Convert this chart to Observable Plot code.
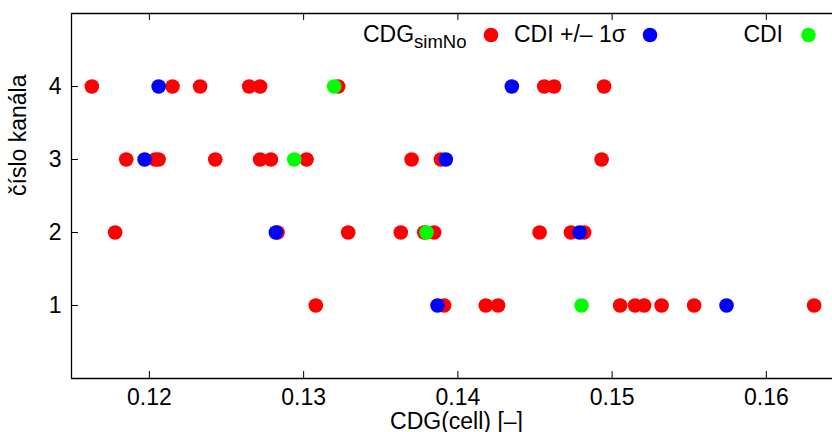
<!DOCTYPE html>
<html>
<head>
<meta charset="utf-8">
<script src="https://cdn.jsdelivr.net/npm/d3@7"></script>
<script src="https://cdn.jsdelivr.net/npm/@observablehq/plot@0.6"></script>
<style>
  html, body { margin: 0; padding: 0; background: #fff; }
  #chart { width: 832px; height: 432px; }
  svg { font-family: "Liberation Sans", Arial, sans-serif; }
</style>
</head>
<body>
<div id="chart"></div>
<script>
// ---- data ----
const channels = [1, 2, 3, 4];
// CDG_simNo (red)
const cdgSimCh1 = [0.13079, 0.13911, 0.14181, 0.14261, 0.15052, 0.15149, 0.15208, 0.15321, 0.15532, 0.16310];
const cdgSimCh2 = [0.11778, 0.12831, 0.13289, 0.13630, 0.13782, 0.13846, 0.14530, 0.14733, 0.14819];
const cdgSimCh3 = [0.11850, 0.12038, 0.12060, 0.12427, 0.12718, 0.12788, 0.13019, 0.13700, 0.13890, 0.14932];
const cdgSimCh4 = [0.11627, 0.12150, 0.12329, 0.12647, 0.12718, 0.13224, 0.14560, 0.14624, 0.14948];
// CDI +/- 1 sigma (blue)
const cdiSigmaLow  = [0.13868, 0.12820, 0.11969, 0.12060];
const cdiSigmaHigh = [0.15742, 0.14789, 0.13922, 0.14350];
// CDI (green)
const cdiMean = [0.14802, 0.13797, 0.12939, 0.13198];
// ticks
const xTicks = [0.12, 0.13, 0.14, 0.15, 0.16];
const yTicks = [1, 2, 3, 4];
const xLabel = "CDG(cell) [–]";
const yLabel = "číslo kanála";

// ---- tables built from arrays ----
const redPts = [];
[cdgSimCh1, cdgSimCh2, cdgSimCh3, cdgSimCh4].forEach((arr, i) =>
  arr.forEach(v => redPts.push({ch: channels[i], v})));
const bluePts = [];
channels.forEach((c, i) => { bluePts.push({ch: c, v: cdiSigmaLow[i]}); bluePts.push({ch: c, v: cdiSigmaHigh[i]}); });
const greenPts = channels.map((c, i) => ({ch: c, v: cdiMean[i]}));

const W = 832, H = 432;
const mL = 71, mR = 0, mT = 13, mB = 54;
const innerW = W - mL - mR, innerH = H - mT - mB;
const FS = 23;
const R = 7.3;

const plot = Plot.plot({
  width: W, height: H,
  marginLeft: mL, marginRight: mR, marginTop: mT, marginBottom: mB,
  style: {fontFamily: '"Liberation Sans", Arial, sans-serif', background: "#fff", color: "#000"},
  x: {domain: [0.11495, 0.16429]},
  y: {domain: [0, 5]},
  marks: [
    // frame (left, top, bottom; right side lies beyond the picture)
    Plot.ruleX([0.11495], {stroke: "#000", strokeWidth: 1.3}),
    Plot.ruleY([0, 5], {stroke: "#000", strokeWidth: 1.3}),
    // inward ticks
    Plot.tickX(xTicks, {x: d => d, insetTop: innerH - 7, stroke: "#000", strokeWidth: 1}),
    Plot.tickX(xTicks, {x: d => d, insetBottom: innerH - 7, stroke: "#000", strokeWidth: 1}),
    Plot.tickY(yTicks, {y: d => d, insetRight: innerW - 7, stroke: "#000", strokeWidth: 1}),
    Plot.axisX({ticks: xTicks, tickSize: 0, tickPadding: 10, fontSize: FS, tickFormat: d3.format(".2f"), label: null}),
    Plot.axisY({ticks: yTicks, tickSize: 0, tickPadding: 10, fontSize: FS, tickFormat: d3.format("d"), label: null}),
    Plot.text([xLabel], {frameAnchor: "bottom", dx: 4.5, dy: 43.5, fontSize: FS, lineAnchor: "middle"}),
    Plot.text([yLabel], {frameAnchor: "left", rotate: -90, dx: -53, fontSize: FS}),
    // data
    Plot.dot(redPts, {x: "v", y: "ch", r: R, fill: "#ff0000", stroke: null}),
    Plot.dot(bluePts, {x: "v", y: "ch", r: R, fill: "#0000ff", stroke: null}),
    Plot.dot(greenPts, {x: "v", y: "ch", r: R, fill: "#00ff00", stroke: null})
  ]
});
document.getElementById("chart").appendChild(plot);

// ---- key (top of plot area) ----
const svg = d3.select(plot);
const key = svg.append("g").attr("font-family", '"Liberation Sans", Arial, sans-serif').attr("font-size", FS);
const entries = [
  {label: "CDG", sub: "simNo", color: "#ff0000", xText: 466.5, xDot: 491},
  {label: "CDI +/– 1σ", sub: null, color: "#0000ff", xText: 626, xDot: 650},
  {label: "CDI", sub: null, color: "#00ff00", xText: 783, xDot: 808.5}
];
entries.forEach(e => {
  const t = key.append("text").attr("x", e.xText).attr("y", 42).attr("text-anchor", "end").text(e.label);
  if (e.sub) {
    t.append("tspan").attr("dy", 6).attr("font-size", 18.5).text(e.sub);
  }
  key.append("circle").attr("cx", e.xDot).attr("cy", 35).attr("r", R).attr("fill", e.color);
});
</script>
</body>
</html>
